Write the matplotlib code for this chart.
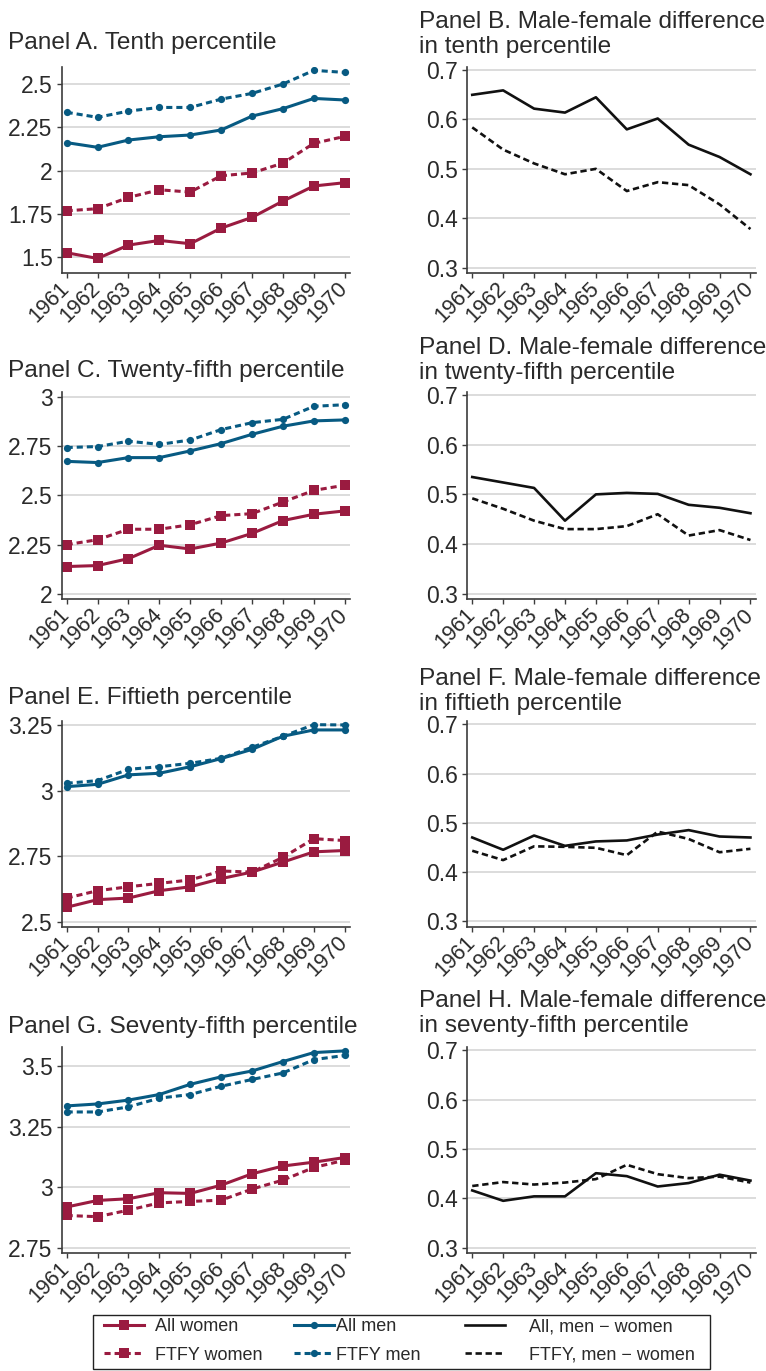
import matplotlib
matplotlib.use('Agg')
import matplotlib.pyplot as plt
from matplotlib.lines import Line2D
from matplotlib.patches import Rectangle

plt.rcParams['font.family'] = ['Liberation Sans', 'DejaVu Sans']

years = [1961, 1962, 1963, 1964, 1965, 1966, 1967, 1968, 1969, 1970]
year_labels = [str(y) for y in years]

# Panel A: tenth percentile
a_all_women = [1.527, 1.494, 1.571, 1.598, 1.579, 1.669, 1.731, 1.825, 1.912, 1.931]
a_ftfy_women = [1.769, 1.781, 1.846, 1.890, 1.877, 1.971, 1.987, 2.044, 2.158, 2.198]
a_all_men = [2.162, 2.135, 2.177, 2.196, 2.206, 2.235, 2.315, 2.358, 2.417, 2.408]
a_ftfy_men = [2.337, 2.308, 2.344, 2.365, 2.365, 2.413, 2.446, 2.500, 2.579, 2.567]
a_yticks = [1.5, 1.75, 2.0, 2.25, 2.5]
a_yticklabels = ['1.5', '1.75', '2', '2.25', '2.5']

# Panel B: difference in tenth percentile
b_all = [0.650, 0.659, 0.622, 0.614, 0.645, 0.580, 0.602, 0.549, 0.524, 0.489]
b_ftfy = [0.584, 0.539, 0.511, 0.489, 0.500, 0.455, 0.473, 0.467, 0.428, 0.378]

# Panel C: twenty-fifth percentile
c_all_women = [2.139, 2.144, 2.179, 2.247, 2.228, 2.258, 2.307, 2.372, 2.404, 2.421]
c_ftfy_women = [2.250, 2.275, 2.328, 2.328, 2.351, 2.397, 2.407, 2.466, 2.525, 2.551]
c_all_men = [2.672, 2.666, 2.691, 2.691, 2.725, 2.762, 2.809, 2.850, 2.877, 2.882]
c_ftfy_men = [2.742, 2.747, 2.774, 2.758, 2.780, 2.833, 2.868, 2.885, 2.951, 2.959]
c_yticks = [2.0, 2.25, 2.5, 2.75, 3.0]
c_yticklabels = ['2', '2.25', '2.5', '2.75', '3']

# Panel D: difference in twenty-fifth percentile
d_all = [0.535, 0.524, 0.513, 0.447, 0.500, 0.503, 0.501, 0.479, 0.473, 0.462]
d_ftfy = [0.492, 0.471, 0.447, 0.430, 0.430, 0.436, 0.460, 0.417, 0.428, 0.408]

# Panel E: fiftieth percentile
e_all_women = [2.556, 2.585, 2.591, 2.619, 2.634, 2.665, 2.690, 2.728, 2.767, 2.772]
e_ftfy_women = [2.591, 2.619, 2.634, 2.647, 2.660, 2.694, 2.690, 2.746, 2.817, 2.810]
e_all_men = [3.015, 3.024, 3.060, 3.066, 3.091, 3.122, 3.157, 3.207, 3.231, 3.231]
e_ftfy_men = [3.028, 3.038, 3.081, 3.091, 3.104, 3.123, 3.165, 3.207, 3.251, 3.250]
e_yticks = [2.5, 2.75, 3.0, 3.25]
e_yticklabels = ['2.5', '2.75', '3', '3.25']

# Panel F: difference in fiftieth percentile
f_all = [0.470, 0.445, 0.474, 0.453, 0.462, 0.464, 0.476, 0.485, 0.472, 0.470]
f_ftfy = [0.443, 0.424, 0.452, 0.451, 0.449, 0.434, 0.482, 0.467, 0.440, 0.447]

# Panel G: seventy-fifth percentile
g_all_women = [2.918, 2.945, 2.952, 2.977, 2.974, 3.008, 3.055, 3.087, 3.103, 3.122]
g_ftfy_women = [2.883, 2.878, 2.905, 2.935, 2.941, 2.946, 2.992, 3.029, 3.081, 3.111]
g_all_men = [3.335, 3.343, 3.359, 3.382, 3.424, 3.455, 3.479, 3.518, 3.555, 3.562]
g_ftfy_men = [3.310, 3.310, 3.331, 3.367, 3.382, 3.416, 3.444, 3.471, 3.526, 3.543]
g_yticks = [2.75, 3.0, 3.25, 3.5]
g_yticklabels = ['2.75', '3', '3.25', '3.5']

# Panel H: difference in seventy-fifth percentile
h_all = [0.416, 0.395, 0.404, 0.404, 0.451, 0.445, 0.424, 0.431, 0.448, 0.436]
h_ftfy = [0.425, 0.433, 0.428, 0.432, 0.439, 0.468, 0.449, 0.441, 0.444, 0.432]

diff_yticks = [0.3, 0.4, 0.5, 0.6, 0.7]
diff_yticklabels = ['0.3', '0.4', '0.5', '0.6', '0.7']

left_titles = ['Panel A. Tenth percentile', 'Panel C. Twenty-fifth percentile',
               'Panel E. Fiftieth percentile', 'Panel G. Seventy-fifth percentile']
right_titles = [('Panel B. Male-female difference', 'in tenth percentile'),
                ('Panel D. Male-female difference', 'in twenty-fifth percentile'),
                ('Panel F. Male-female difference', 'in fiftieth percentile'),
                ('Panel H. Male-female difference', 'in seventy-fifth percentile')]

legend_women = ['All women', 'FTFY women']
legend_men = ['All men', 'FTFY men']
legend_diff = ['All, men \u2212 women', 'FTFY, men \u2212 women']

# ---------------------------------------------------------------
W, H = 766, 1371
fig = plt.figure(figsize=(W / 100, H / 100), dpi=100)

RED = '#9a1b40'
BLUE = '#075a82'
DARK = '#2a2a2a'
GRID = '#d2d2d2'
SPINE = '#3c3c3c'
DASH = (0, (2.0, 1.3))
DASH_K = (0, (2.4, 1.4))


def px_axes(l, t, r, b):
    return fig.add_axes([l / W, 1 - b / H, (r - l) / W, (b - t) / H])


def style(ax, yticks, yticklabels, ylim):
    ax.set_xlim(1960.84, 1970.17)
    ax.set_ylim(*ylim)
    ax.set_yticks(yticks)
    ax.set_yticklabels(yticklabels)
    ax.set_xticks(years)
    ax.set_xticklabels(year_labels, rotation=45, ha='right', va='center',
                       rotation_mode='anchor')
    for s in ['top', 'right']:
        ax.spines[s].set_visible(False)
    for s in ['left', 'bottom']:
        ax.spines[s].set_color(SPINE)
        ax.spines[s].set_linewidth(1.2)
    ax.grid(axis='y', color=GRID, lw=1.1)
    ax.set_axisbelow(True)
    ax.tick_params(direction='out', length=3.5, width=1.0, color=SPINE,
                   labelcolor=DARK)
    ax.tick_params(axis='y', labelsize=16.5, pad=3)
    ax.tick_params(axis='x', labelsize=15.5, pad=5.5)


rows = [(66.7, 273.2), (391.7, 599.3), (721.0, 926.7), (1047.0, 1253.3)]
LX = (61.7, 350.0)
RX = (467.3, 755.7)

level_data = [
    (a_all_women, a_ftfy_women, a_all_men, a_ftfy_men, a_yticks, a_yticklabels, (1.409, 2.600)),
    (c_all_women, c_ftfy_women, c_all_men, c_ftfy_men, c_yticks, c_yticklabels, (1.973, 3.025)),
    (e_all_women, e_ftfy_women, e_all_men, e_ftfy_men, e_yticks, e_yticklabels, (2.482, 3.265)),
    (g_all_women, g_ftfy_women, g_all_men, g_ftfy_men, g_yticks, g_yticklabels, (2.727, 3.578)),
]
diff_data = [(b_all, b_ftfy), (d_all, d_ftfy), (f_all, f_ftfy), (h_all, h_ftfy)]

for i, (t, b) in enumerate(rows):
    aw, fw, am, fm, yt, ytl, yl = level_data[i]
    ax = px_axes(LX[0], t, LX[1], b)
    ax.plot(years, fw, color=RED, lw=2.2, ls=DASH, marker='s', ms=6.8, mew=0)
    ax.plot(years, aw, color=RED, lw=2.2, marker='s', ms=6.8, mew=0)
    ax.plot(years, fm, color=BLUE, lw=2.2, ls=DASH, marker='o', ms=5.2, mew=0)
    ax.plot(years, am, color=BLUE, lw=2.2, marker='o', ms=5.2, mew=0)
    style(ax, yt, ytl, yl)

    da, df = diff_data[i]
    ax2 = px_axes(RX[0], t, RX[1], b)
    ax2.plot(years, df, color='#111111', lw=1.9, ls=DASH_K)
    ax2.plot(years, da, color='#111111', lw=1.9)
    style(ax2, diff_yticks, diff_yticklabels, (0.2885, 0.707))

# titles
TFS = 17.6
left_base = [49.3, 377.3, 704.3, 1033.0]
right_base = [(28.5, 53.5), (354.0, 379.0), (685.0, 710.0), (1007.0, 1032.0)]
for i in range(4):
    fig.text(8 / W, 1 - left_base[i] / H, left_titles[i], ha='left', va='baseline',
             fontsize=TFS, color=DARK)
    l1, l2 = right_titles[i]
    y1, y2 = right_base[i]
    fig.text(419 / W, 1 - y1 / H, l1, ha='left', va='baseline', fontsize=TFS, color=DARK)
    fig.text(419 / W, 1 - y2 / H, l2, ha='left', va='baseline', fontsize=TFS, color=DARK)

# legend: three columns placed individually
col_handles = [
    [Line2D([], [], color=RED, lw=2.2, marker='s', ms=6.8, mew=0),
     Line2D([], [], color=RED, lw=2.2, ls=DASH, marker='s', ms=6.8, mew=0)],
    [Line2D([], [], color=BLUE, lw=2.2, marker='o', ms=5.2, mew=0),
     Line2D([], [], color=BLUE, lw=2.2, ls=DASH, marker='o', ms=5.2, mew=0)],
    [Line2D([], [], color='#111111', lw=1.9),
     Line2D([], [], color='#111111', lw=1.9, ls=DASH_K)],
]
col_labels = [legend_women, legend_men, legend_diff]
col_x = [104, 294, 465]
col_pad = [0.6, 0.15, 1.35]
for hs, ls_, x, pad in zip(col_handles, col_labels, col_x, col_pad):
    lg = fig.legend(handles=hs, labels=ls_, loc='center left',
                    bbox_to_anchor=(x / W, 1 - 1341 / H), frameon=False,
                    fontsize=13, handlelength=2.2, handletextpad=pad,
                    labelspacing=0.62, borderpad=0.0, borderaxespad=0.0,
                    numpoints=1)
    for txt in lg.get_texts():
        txt.set_color(DARK)

fig.patches.append(Rectangle((93 / W, 1 - 1369 / H), (710 - 93) / W, (1369 - 1315) / H,
                             transform=fig.transFigure, fill=False, edgecolor='#222222',
                             lw=1.0))

fig.savefig('out.png', dpi=100)
